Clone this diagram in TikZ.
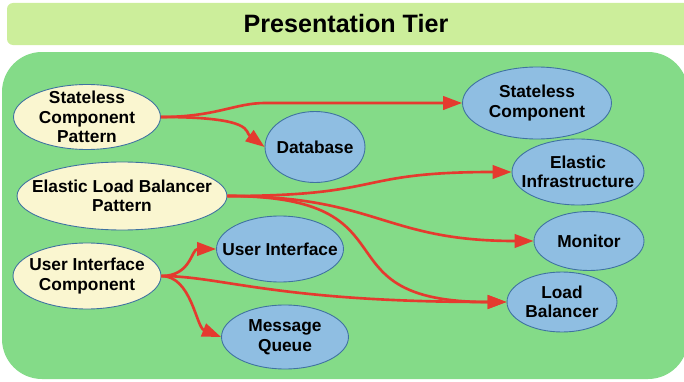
\documentclass[tikz,border=0pt]{standalone}
\usepackage{fontspec}
\setmainfont{Liberation Sans}
\usepackage{xcolor}
\usepackage{tikz}
\usetikzlibrary{shapes.geometric, arrows.meta}

\definecolor{tierbar}{HTML}{CCEE9B}
\definecolor{tierpanel}{HTML}{84DB88}
\definecolor{patfill}{HTML}{FAF6D0}
\definecolor{compfill}{HTML}{8FBEE2}
\definecolor{compedge}{HTML}{3F72A0}
\definecolor{flowred}{HTML}{E53A2F}

\begin{document}
\begin{tikzpicture}[x=0.02cm, y=-0.02cm,
  patnode/.style={ellipse, draw=compedge, line width=0.5pt, fill=patfill,
    inner xsep=-0.5cm, inner ysep=-0.25cm, align=center,
    font=\fontsize{9.85}{11.1}\selectfont\bfseries},
  compnode/.style={patnode, fill=compfill},
  flow/.style={draw=flowred, line width=1.5pt,
    -{Triangle[length=0.38cm, width=0.27cm]}}]
\useasboundingbox (0,0) rectangle (684,382);

% tier header and panel
\fill[tierbar, rounded corners=0.12cm] (7,3) rectangle (692,45);
\node (title) at (346,24) {\fontsize{14.3}{17}\selectfont\bfseries Presentation Tier};
\fill[tierpanel, rounded corners=0.8cm] (2,52) rectangle (688,379);

% patterns
\node[patnode, minimum width=2.94cm, minimum height=1.30cm] (scp) at (87,117) {Stateless\\Component\\Pattern};
\node[patnode, minimum width=4.20cm, minimum height=1.36cm] (elbp) at (122,196) {Elastic Load Balancer\\Pattern};
\node[patnode, minimum width=2.96cm, minimum height=1.32cm] (uic) at (87,276) {User Interface\\Component};

% components
\node[compnode, minimum width=2.00cm, minimum height=1.42cm] (db) at (315,147) {Database};
\node[compnode, minimum width=2.98cm, minimum height=1.44cm] (sc) at (537,103) {Stateless\\Component};
\node[compnode, minimum width=2.64cm, minimum height=1.32cm] (ei) at (578,172) {Elastic\\Infrastructure};
\node[compnode, minimum width=2.20cm, minimum height=1.18cm] (mon) at (589,241) {Monitor};
\node[compnode, minimum width=2.20cm, minimum height=1.20cm] (lb) at (562,302) {Load\\Balancer};
\node[compnode, minimum width=2.54cm, minimum height=1.32cm] (ui) at (280,249) {User Interface};
\node[compnode, minimum width=2.54cm, minimum height=1.28cm] (mq) at (285,337) {Message\\Queue};

% links
\draw[flow] (scp.east) .. controls +(55,0) and +(-30,0) .. (265,103) -- (sc.west);
\draw[flow] (scp.east) .. controls +(95,0) and +(-20,-15) .. (db.west);
\draw[flow] (elbp.east) .. controls +(160,0) and +(-160,0) .. (ei.west);
\draw[flow] (elbp.east) .. controls +(150,0) and +(-150,0) .. (mon.west);
\draw[flow] (elbp.east) .. controls +(195,0) and +(-195,0) .. (lb.west);
\draw[flow] (uic.east) .. controls +(30,0) and +(-25,0) .. (ui.west);
\draw[flow] (uic.east) .. controls +(30,0) and +(-25,-10) .. (mq.west);
\draw[flow] (uic.east) .. controls +(60,0) and +(-230,0) .. (lb.west);
\end{tikzpicture}
\end{document}
